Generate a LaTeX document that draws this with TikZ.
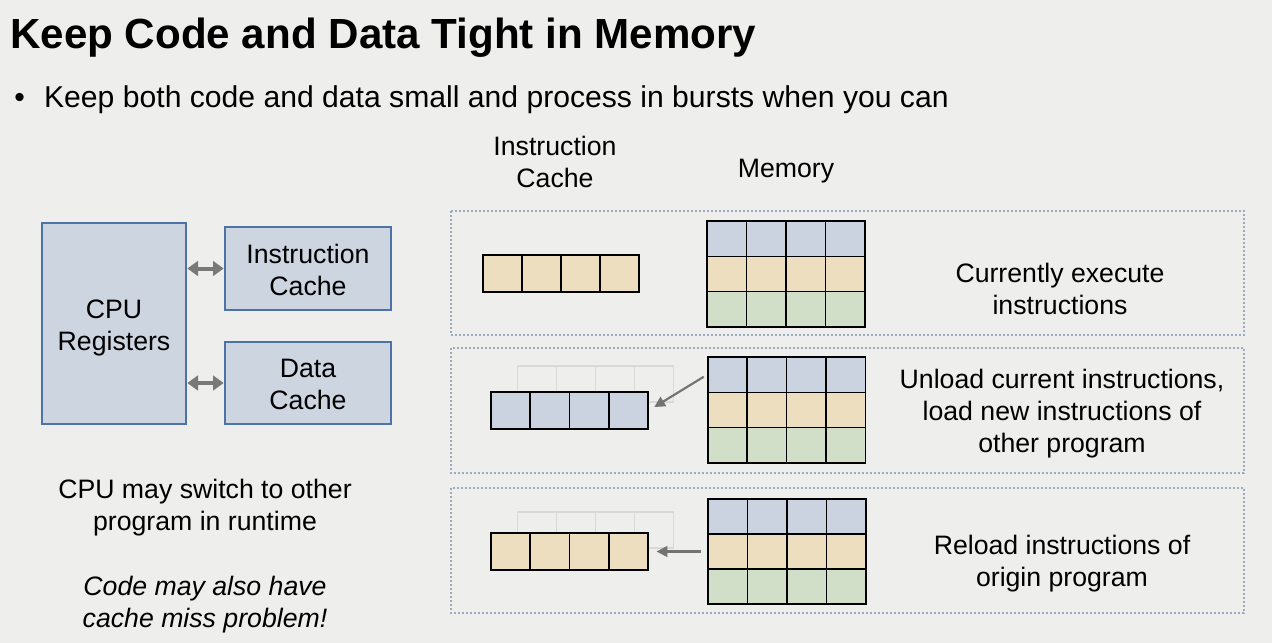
\documentclass[tikz,border=0pt]{standalone}
\usepackage{fontspec}
\setmainfont{Liberation Sans}
\usetikzlibrary{arrows.meta}

\definecolor{slidebg}{HTML}{EEEEEC}
\definecolor{boxfill}{HTML}{CDD5E1}
\definecolor{boxline}{HTML}{4C72A6}
\definecolor{bluec}{HTML}{CCD3E0}
\definecolor{sandc}{HTML}{ECDEBE}
\definecolor{sagec}{HTML}{D1DEC8}
\definecolor{dotline}{HTML}{9AAAC0}
\definecolor{ghost}{HTML}{D9D9D7}

\tikzset{
  note/.style={font=\fontsize{20}{24}\selectfont, align=center, inner sep=0pt},
  cpubox/.style={draw=boxline, fill=boxfill, line width=2pt, inner sep=0pt},
  cell/.style={draw=black, line width=1.1pt, minimum width=29.25pt, minimum height=27.75pt, inner sep=0pt},
  memcell/.style={draw=black, line width=1.1pt, minimum width=29.6pt, minimum height=26.5pt, inner sep=0pt},
  ghostcell/.style={draw=ghost, line width=0.8pt, minimum width=29.25pt, minimum height=27pt, inner sep=0pt},
  panel/.style={draw=dotline, line width=1.4pt, dash pattern=on 1.5pt off 1.5pt},
  link/.style={draw=gray!95!black, line width=3pt, {Triangle[length=8pt,width=11pt]}-{Triangle[length=8pt,width=11pt]}},
  feed/.style={draw=gray!90!black, line width=1.6pt, -{Triangle[length=8pt,width=8pt]}}
}

\begin{document}
\begin{tikzpicture}[x=0.75pt,y=-0.75pt]
\fill[slidebg] (0,0) rectangle (1272,643);
\useasboundingbox (0,0) rectangle (1272,643);

% title and bullet
\node[anchor=base west, inner sep=0pt, font=\fontsize{31.6}{36}\selectfont\bfseries] (title) at (10,48) {Keep Code and Data Tight in Memory};
\node[anchor=base west, inner sep=0pt, font=\fontsize{22.6}{26}\selectfont] (bullet) at (14,107) {\textbullet\hspace{14.5pt}Keep both code and data small and process in bursts when you can};

% cpu side
\node[cpubox, minimum width=108pt, minimum height=150.75pt] (cpu) at (114,323.5) {};
\node[cpubox, minimum width=124.5pt, minimum height=62.25pt] (ic) at (308,268.5) {};
\node[cpubox, minimum width=124.5pt, minimum height=61.5pt] (dc) at (308,383) {};
\node[note] (cputxt) at ([yshift=-3pt]cpu) {CPU\\Registers};
\node[note] (ictxt) at ([yshift=-0.8pt]ic) {Instruction\\Cache};
\node[note] (dctxt) at ([yshift=-0.8pt]dc) {Data\\Cache};
\draw[link] (cpu.east |- ic.west) -- (ic.west);
\draw[link] (cpu.east |- dc.west) -- (dc.west);

\node[note] (switch) at (205,508) {CPU may switch to other\\program in runtime};
\node[note, font=\fontsize{20}{24}\selectfont\itshape] (miss) at (205,605) {Code may also have\\cache miss problem!};

% headers
\node[note] (hcache) at (555,162) {Instruction\\Cache};
\node[note] (hmem) at (786,171) {Memory};

% panels
\draw[panel] (451,211) rectangle (1244,335);
\draw[panel] (451,348) rectangle (1244,473);
\draw[panel] (451,488) rectangle (1244,613);

% ghost rows
\foreach \c in {1,...,4} {
  \node[ghostcell] (gb-\c) at ({517+39.25*(\c-0.5)},384) {};
  \node[ghostcell] (gc-\c) at ({517+39.25*(\c-0.5)},530) {};
}

% cache rows
\foreach \c in {1,...,4} {
  \node[cell, fill=sandc] (ca-\c) at ({483+39*(\c-0.5)},273.5) {};
  \node[cell, fill=bluec] (cb-\c) at ({491+39.25*(\c-0.5)},410.5) {};
  \node[cell, fill=sandc] (cc-\c) at ({491+39.25*(\c-0.5)},551.5) {};
}

% memory grids
\foreach \r/\col in {1/bluec,2/sandc,3/sagec} {
  \foreach \c in {1,...,4} {
    \node[memcell, fill=\col] (ma-\r-\c) at ({707+39.5*(\c-0.5)},{221+35.3*(\r-0.5)}) {};
    \node[memcell, fill=\col] (mb-\r-\c) at ({708+39.3*(\c-0.5)},{357+35.3*(\r-0.5)}) {};
    \node[memcell, fill=\col] (mc-\r-\c) at ({708+39.5*(\c-0.5)},{499+35*(\r-0.5)}) {};
  }
}

\draw[feed, shorten <=3pt, shorten >=5pt] (mb-1-1.west) -- (cb-4.east);
\draw[feed, shorten <=5pt, shorten >=6pt] (mc-2-1.west) -- (cc-4.east);

% panel notes
\node[note] (nowrun) at (1060,289) {Currently execute\\instructions};
\node[note] (unload) at (1062,414) {Unload current instructions,\\load new instructions of\\other program};
\node[note] (reload) at (1062,564) {Reload instructions of\\origin program};
\end{tikzpicture}
\end{document}
